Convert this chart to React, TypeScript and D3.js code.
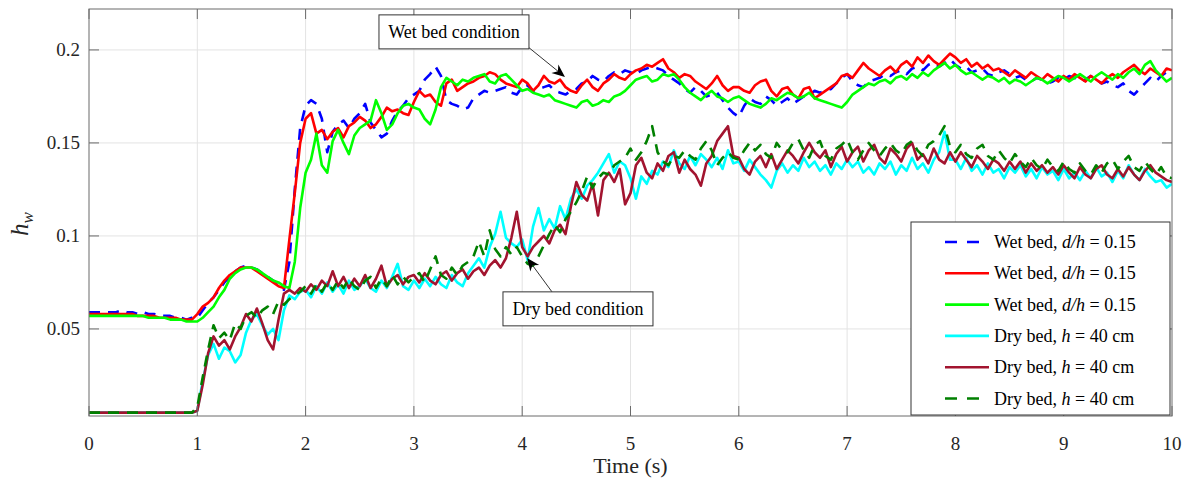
import React from 'react';
import * as d3 from 'd3';

// ---------- data (h_w vs time, sampled every 0.05 s from 0 to 10 s) ----------
const timeStep = 0.05;
const xTickValues = [0, 1, 2, 3, 4, 5, 6, 7, 8, 9, 10];
const yTickValues = [0.05, 0.1, 0.15, 0.2];
const yTickLabels = ['0.05', '0.1', '0.15', '0.2'];

const wetBlue = [
  .059,.059,.059,.059,.059,.059,.060,.059,.059,.058,.059,.058,.058,.057,.057,.057,.056,.056,.055,.056,
  .056,.060,.064,.067,.071,.075,.078,.081,.083,.084,.083,.082,.080,.078,.076,.074,.071,.086,.125,.158,
  .170,.173,.171,.163,.145,.156,.160,.162,.158,.163,.166,.171,.161,.157,.153,.155,.162,.167,.170,.174,
  .176,.178,.184,.187,.191,.186,.173,.171,.170,.168,.169,.174,.176,.178,.177,.178,.179,.180,.177,.176,
  .180,.181,.178,.179,.180,.181,.178,.177,.176,.178,.179,.182,.183,.186,.184,.183,.186,.188,.187,.189,
  .188,.187,.189,.190,.191,.190,.189,.186,.184,.182,.179,.177,.180,.178,.175,.176,.177,.173,.169,.166,
  .164,.170,.174,.172,.171,.175,.173,.170,.172,.174,.171,.173,.175,.176,.178,.177,.178,.179,.182,.185,
  .187,.183,.181,.180,.183,.184,.185,.187,.186,.188,.189,.187,.190,.191,.189,.192,.193,.191,.193,.195,
  .192,.190,.191,.188,.189,.190,.187,.186,.188,.189,.187,.185,.186,.184,.183,.185,.184,.182,.183,.185,
  .184,.186,.185,.183,.184,.186,.184,.182,.183,.181,.180,.182,.178,.176,.179,.182,.185,.183,.186,.188,
  .187,
];

const wetRed = [
  .058,.058,.058,.058,.058,.058,.058,.058,.058,.057,.057,.057,.057,.056,.056,.056,.056,.055,.055,.055,
  .058,.062,.064,.067,.072,.076,.079,.081,.083,.083,.083,.081,.079,.077,.075,.073,.072,.098,.123,.150,
  .163,.166,.155,.157,.152,.156,.158,.153,.159,.161,.164,.162,.158,.160,.164,.169,.167,.168,.166,.165,
  .172,.178,.175,.176,.172,.170,.182,.184,.178,.180,.182,.183,.185,.186,.188,.187,.184,.182,.181,.180,
  .184,.182,.178,.181,.186,.183,.182,.184,.180,.178,.177,.181,.184,.180,.178,.182,.184,.187,.185,.184,
  .187,.189,.190,.192,.191,.193,.195,.190,.188,.185,.187,.186,.183,.181,.179,.182,.186,.181,.178,.180,
  .180,.178,.177,.181,.183,.184,.178,.175,.179,.180,.176,.174,.179,.180,.174,.176,.178,.180,.182,.186,
  .187,.185,.189,.193,.190,.188,.186,.189,.191,.188,.192,.194,.191,.196,.193,.197,.194,.192,.195,.198,
  .196,.193,.195,.191,.193,.190,.192,.189,.190,.188,.186,.189,.187,.185,.188,.186,.184,.187,.185,.183,
  .186,.184,.187,.185,.183,.186,.184,.182,.185,.187,.185,.188,.190,.192,.189,.187,.190,.188,.186,.190,
  .189,
];

const wetGreen = [
  .057,.057,.057,.057,.057,.057,.057,.057,.057,.057,.057,.056,.056,.056,.056,.055,.055,.055,.054,.054,
  .054,.056,.059,.062,.067,.071,.077,.080,.082,.083,.083,.082,.080,.078,.076,.075,.073,.072,.086,.115,
  .134,.141,.155,.138,.134,.151,.157,.150,.144,.154,.158,.160,.162,.173,.166,.157,.160,.166,.170,.171,
  .169,.168,.163,.160,.168,.180,.185,.183,.181,.184,.183,.185,.186,.187,.183,.182,.186,.187,.184,.181,
  .178,.179,.177,.176,.175,.176,.173,.172,.171,.170,.169,.172,.173,.170,.171,.173,.172,.175,.176,.178,
  .181,.184,.185,.186,.183,.184,.187,.186,.187,.184,.180,.177,.175,.173,.176,.178,.175,.174,.172,.174,
  .175,.173,.171,.170,.169,.171,.174,.173,.175,.177,.176,.174,.175,.177,.174,.173,.172,.171,.170,.169,
  .172,.176,.178,.180,.182,.181,.183,.184,.182,.185,.186,.184,.187,.185,.188,.186,.189,.191,.193,.190,
  .192,.189,.187,.188,.186,.184,.186,.185,.183,.185,.182,.184,.183,.181,.183,.185,.184,.182,.184,.186,
  .185,.183,.185,.187,.185,.183,.186,.188,.186,.184,.187,.185,.188,.190,.187,.192,.194,.189,.186,.183,
  .185,
];

const dryCyan = [
  .005,.005,.005,.005,.005,.005,.005,.005,.005,.005,.005,.005,.005,.005,.005,.005,.005,.005,.005,.005,
  .006,.022,.036,.042,.034,.040,.038,.032,.036,.048,.055,.058,.052,.047,.050,.044,.060,.068,.066,.070,
  .071,.067,.073,.069,.075,.070,.074,.069,.076,.071,.073,.077,.072,.070,.076,.072,.078,.085,.073,.071,
  .076,.072,.077,.073,.078,.074,.072,.079,.075,.073,.080,.084,.088,.083,.094,.101,.113,.099,.096,.094,
  .098,.087,.105,.115,.103,.109,.104,.116,.109,.120,.125,.120,.127,.130,.134,.139,.144,.134,.140,.138,
  .131,.120,.132,.128,.135,.133,.140,.137,.146,.139,.136,.143,.138,.144,.141,.137,.142,.136,.146,.139,
  .140,.135,.141,.137,.133,.130,.126,.135,.139,.134,.138,.135,.142,.137,.140,.135,.138,.133,.139,.136,
  .141,.137,.140,.134,.137,.133,.139,.136,.140,.133,.138,.135,.142,.136,.139,.134,.141,.145,.156,.141,
  .141,.136,.142,.135,.138,.133,.139,.134,.136,.131,.137,.134,.138,.132,.136,.131,.137,.133,.135,.130,
  .136,.131,.134,.130,.135,.131,.137,.132,.134,.129,.135,.131,.138,.133,.130,.136,.132,.129,.130,.126,
  .128,
];

const dryMaroon = [
  .005,.005,.005,.005,.005,.005,.005,.005,.005,.005,.005,.005,.005,.005,.005,.005,.005,.005,.005,.005,
  .006,.020,.037,.046,.041,.044,.039,.046,.051,.058,.054,.061,.053,.044,.039,.055,.069,.071,.069,.072,
  .070,.074,.071,.076,.073,.081,.073,.078,.072,.077,.073,.079,.072,.077,.084,.073,.077,.079,.074,.078,
  .079,.075,.080,.076,.074,.079,.081,.076,.080,.082,.077,.081,.083,.079,.084,.087,.083,.088,.099,.113,
  .094,.089,.094,.097,.100,.096,.103,.106,.101,.116,.129,.122,.119,.128,.111,.130,.134,.129,.136,.117,
  .123,.138,.142,.134,.131,.139,.135,.143,.145,.134,.141,.136,.133,.127,.139,.143,.151,.155,.159,.143,
  .142,.136,.133,.140,.143,.137,.144,.136,.141,.146,.143,.139,.145,.150,.145,.142,.146,.137,.144,.148,
  .140,.145,.148,.140,.146,.149,.142,.139,.147,.144,.140,.147,.150,.141,.144,.139,.147,.141,.139,.145,
  .140,.145,.141,.137,.143,.140,.136,.141,.139,.135,.140,.136,.140,.134,.139,.135,.138,.134,.137,.133,
  .138,.134,.131,.137,.133,.131,.136,.138,.133,.131,.136,.132,.137,.133,.130,.135,.138,.134,.132,.130,
  .129,
];

const dryDarkGreen = [
  .005,.005,.005,.005,.005,.005,.005,.005,.005,.005,.005,.005,.005,.005,.005,.005,.005,.005,.005,.005,
  .008,.024,.039,.052,.045,.048,.044,.053,.050,.057,.059,.056,.060,.062,.058,.065,.063,.066,.068,.070,
  .073,.069,.074,.070,.075,.071,.076,.072,.077,.073,.071,.076,.078,.072,.077,.073,.079,.074,.078,.075,
  .078,.080,.075,.082,.089,.079,.077,.083,.079,.084,.086,.089,.097,.089,.103,.093,.089,.094,.090,.094,
  .089,.085,.084,.089,.095,.101,.106,.102,.109,.113,.118,.124,.132,.126,.131,.134,.133,.138,.140,.142,
  .147,.141,.145,.151,.159,.145,.140,.138,.143,.142,.146,.143,.141,.147,.151,.146,.138,.142,.145,.142,
  .141,.146,.150,.146,.149,.144,.142,.150,.146,.145,.150,.152,.146,.142,.149,.151,.143,.141,.147,.149,
  .152,.145,.141,.146,.150,.146,.143,.147,.150,.146,.144,.149,.151,.146,.143,.149,.151,.154,.159,.148,
  .145,.149,.144,.142,.147,.149,.143,.141,.146,.142,.139,.144,.140,.137,.142,.138,.136,.141,.137,.135,
  .140,.136,.134,.139,.135,.133,.138,.134,.139,.141,.136,.140,.143,.137,.135,.140,.136,.133,.137,.132,
  .131,
];

const seriesList = [
  { name: 'Wet bed, ', italic: 'd/h', tail: ' = 0.15', values: wetBlue, color: '#0000ff', dash: '11,8' },
  { name: 'Wet bed, ', italic: 'd/h', tail: ' = 0.15', values: wetRed, color: '#ff0000', dash: '' },
  { name: 'Wet bed, ', italic: 'd/h', tail: ' = 0.15', values: wetGreen, color: '#00ff00', dash: '' },
  { name: 'Dry bed, ', italic: 'h', tail: ' = 40 cm', values: dryCyan, color: '#00ffff', dash: '' },
  { name: 'Dry bed, ', italic: 'h', tail: ' = 40 cm', values: dryMaroon, color: '#a2142f', dash: '' },
  { name: 'Dry bed, ', italic: 'h', tail: ' = 40 cm', values: dryDarkGreen, color: '#008000', dash: '11,8' },
];

// annotations in data coordinates
const annotations = [
  { text: 'Wet bed condition', box: [3.37, 0.2097], tip: [4.395, 0.1855], tailAt: 'bottomRight' },
  { text: 'Dry bed condition', box: [4.515, 0.0608], tip: [4.045, 0.0882], tailAt: 'topMid' },
];

const W = 1188;
const H = 481;
const plot = { left: 89, right: 1172, top: 9, bottom: 416 };
const FONT = '"Liberation Serif", "Times New Roman", Times, serif';

export default function App() {
  const x = d3.scaleLinear().domain([0, 10]).range([plot.left, plot.right]);
  const y = d3.scaleLinear().domain([0.0032, 0.222]).range([plot.bottom, plot.top]);
  const line = d3
    .line<number>()
    .x((_, i) => x(i * timeStep))
    .y((d) => y(d));

  const axisColor = '#6a6a6a';
  const gridColor = '#e3e3e3';
  const tickLen = 10;

  const legend = { x0: 911, y0: 222, x1: 1170, y1: 415 };
  const rowY = (i: number) => 242 + i * 31.3;

  return (
    <svg
      width={W}
      height={H}
      viewBox={`0 0 ${W} ${H}`}
      style={{ position: 'fixed', left: 0, top: 0, background: '#fff' }}
      fontFamily={FONT}
    >
      <rect x={0} y={0} width={W} height={H} fill="#fff" />
      <defs>
        <clipPath id="plotClip">
          <rect x={plot.left} y={plot.top} width={plot.right - plot.left} height={plot.bottom - plot.top} />
        </clipPath>
      </defs>

      {/* grid */}
      {xTickValues.slice(1, -1).map((t) => (
        <line key={'gx' + t} x1={x(t)} x2={x(t)} y1={plot.top} y2={plot.bottom} stroke={gridColor} strokeWidth={1} />
      ))}
      {yTickValues.map((v) => (
        <line key={'gy' + v} x1={plot.left} x2={plot.right} y1={y(v)} y2={y(v)} stroke={gridColor} strokeWidth={1} />
      ))}

      {/* data lines */}
      <g clipPath="url(#plotClip)">
        {seriesList.map((s, i) => (
          <path
            key={i}
            d={line(s.values) || ''}
            fill="none"
            stroke={s.color}
            strokeWidth={2.6}
            strokeDasharray={s.dash || undefined}
            strokeLinejoin="round"
          />
        ))}
      </g>

      {/* axes box and ticks */}
      <rect
        x={plot.left}
        y={plot.top}
        width={plot.right - plot.left}
        height={plot.bottom - plot.top}
        fill="none"
        stroke={axisColor}
        strokeWidth={1}
      />
      {xTickValues.map((t) => (
        <g key={'xt' + t}>
          <line x1={x(t)} x2={x(t)} y1={plot.bottom} y2={plot.bottom - tickLen} stroke={axisColor} />
          <line x1={x(t)} x2={x(t)} y1={plot.top} y2={plot.top + tickLen} stroke={axisColor} />
          <text x={x(t)} y={450} textAnchor="middle" fontSize={19} fill="#262626">
            {t}
          </text>
        </g>
      ))}
      {yTickValues.map((v, i) => (
        <g key={'yt' + v}>
          <line x1={plot.left} x2={plot.left + tickLen} y1={y(v)} y2={y(v)} stroke={axisColor} />
          <line x1={plot.right} x2={plot.right - tickLen} y1={y(v)} y2={y(v)} stroke={axisColor} />
          <text x={80} y={y(v) + 6.5} textAnchor="end" fontSize={19} fill="#262626">
            {yTickLabels[i]}
          </text>
        </g>
      ))}

      {/* axis labels */}
      <text x={(plot.left + plot.right) / 2} y={473} textAnchor="middle" fontSize={22} fill="#262626">
        Time (s)
      </text>
      <text transform="translate(28,224) rotate(-90)" textAnchor="middle" fontSize={25} fontStyle="italic" fill="#262626">
        h<tspan fontSize={17} dy={5}>w</tspan>
      </text>

      {/* annotations */}
      {annotations.map((a, i) => {
        const bw = 150;
        const bh = 34;
        const cx = x(a.box[0]);
        const cy = y(a.box[1]);
        const bx = cx - bw / 2;
        const by = cy - bh / 2;
        const tailX = a.tailAt === 'bottomRight' ? bx + bw - 1 : cx - 26;
        const tailY = a.tailAt === 'bottomRight' ? by + bh - 2 : by;
        const tx = x(a.tip[0]);
        const ty = y(a.tip[1]);
        const ang = Math.atan2(ty - tailY, tx - tailX);
        const hl = 13;
        const hw = 5.5;
        const bxp = tx - hl * Math.cos(ang);
        const byp = ty - hl * Math.sin(ang);
        const nx = -Math.sin(ang);
        const ny = Math.cos(ang);
        const inner = 0.7;
        const ix = tx - hl * inner * Math.cos(ang);
        const iy = ty - hl * inner * Math.sin(ang);
        const head = `M${tx},${ty} L${bxp + nx * hw},${byp + ny * hw} L${ix},${iy} L${bxp - nx * hw},${byp - ny * hw} Z`;
        return (
          <g key={'ann' + i}>
            <line x1={tailX} y1={tailY} x2={ix} y2={iy} stroke="#333" strokeWidth={1} />
            <path d={head} fill="#000" />
            <rect x={bx} y={by} width={bw} height={bh} fill="#fff" stroke="#333" strokeWidth={1} />
            <text x={cx} y={cy + 6} textAnchor="middle" fontSize={18} fill="#000">
              {a.text}
            </text>
          </g>
        );
      })}

      {/* legend */}
      <rect
        x={legend.x0}
        y={legend.y0}
        width={legend.x1 - legend.x0}
        height={legend.y1 - legend.y0}
        fill="#fff"
        stroke="#333"
        strokeWidth={1}
      />
      {seriesList.map((s, i) => (
        <g key={'lg' + i}>
          <line
            x1={945}
            x2={989}
            y1={rowY(i)}
            y2={rowY(i)}
            stroke={s.color}
            strokeWidth={2.6}
            strokeDasharray={s.dash ? '12,10' : undefined}
          />
          <text x={994} y={rowY(i) + 6} fontSize={18} fill="#000">
            {s.name}
            <tspan fontStyle="italic">{s.italic}</tspan>
            {s.tail}
          </text>
        </g>
      ))}
    </svg>
  );
}
